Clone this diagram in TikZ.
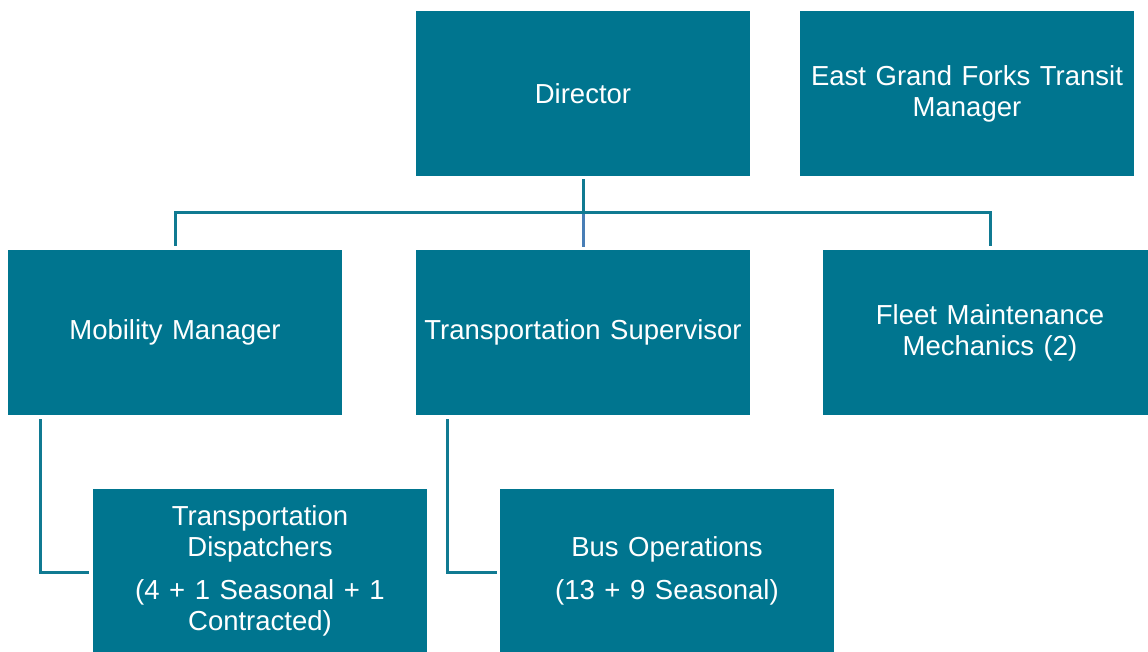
\documentclass[tikz,border=0pt]{standalone}
\usepackage{fontspec}
\setmainfont{Liberation Sans}[WordSpace=1.25]
\definecolor{boxteal}{RGB}{0,117,143}
\definecolor{lineteal}{RGB}{16,122,146}
\definecolor{lineblue}{RGB}{72,126,182}
\begin{document}
\begin{tikzpicture}[x=1pt,y=-1pt,
  orgbox/.style={fill=boxteal, draw=none, minimum width=334pt, minimum height=165pt,
    inner sep=0pt, text=white, align=center,
    font=\fontsize{27.5pt}{31pt}\selectfont},
  conn/.style={draw=lineteal, line width=3pt},
  connb/.style={draw=lineblue, line width=3pt}]
\useasboundingbox (0,0) rectangle (1148,652);
\begin{scope}
\clip (0,0) rectangle (1148,652);
\node[orgbox] (dir)   at (583,93.5)  {Director};
\node[orgbox] (egf)   at (967,93.5)  {East Grand Forks Transit\\Manager};
\node[orgbox] (mob)   at (175,332.5) {Mobility Manager};
\node[orgbox] (sup)   at (583,332.5) {Transportation Supervisor};
\node[orgbox] (fleet) at (990,332.5) {Fleet Maintenance\\Mechanics (2)};
\node[orgbox] (disp)  at (260,571)   {Transportation\\Dispatchers\\[12pt](4 + 1 Seasonal + 1\\Contracted)};
\node[orgbox] (bus)   at (667,571)   {Bus Operations\\[12pt](13 + 9 Seasonal)};
\end{scope}
% branch bar under the director
\coordinate (bar) at (583,213);
\draw[conn] ([yshift=-3pt]dir.south) -- (bar);
\draw[connb] (bar) -- ([yshift=3pt]sup.north);
\draw[conn] ([yshift=4pt]mob.north) -- (mob.north |- bar) -| ([yshift=4pt]fleet.north);
% side links to the lower boxes
\draw[conn] ([xshift=33pt,yshift=-4pt]mob.south west) |- ([xshift=-4pt,yshift=-1.5pt]disp.west);
\draw[conn] ([xshift=32pt,yshift=-4pt]sup.south west) |- ([xshift=-3pt,yshift=-1pt]bus.west);
\end{tikzpicture}
\end{document}
